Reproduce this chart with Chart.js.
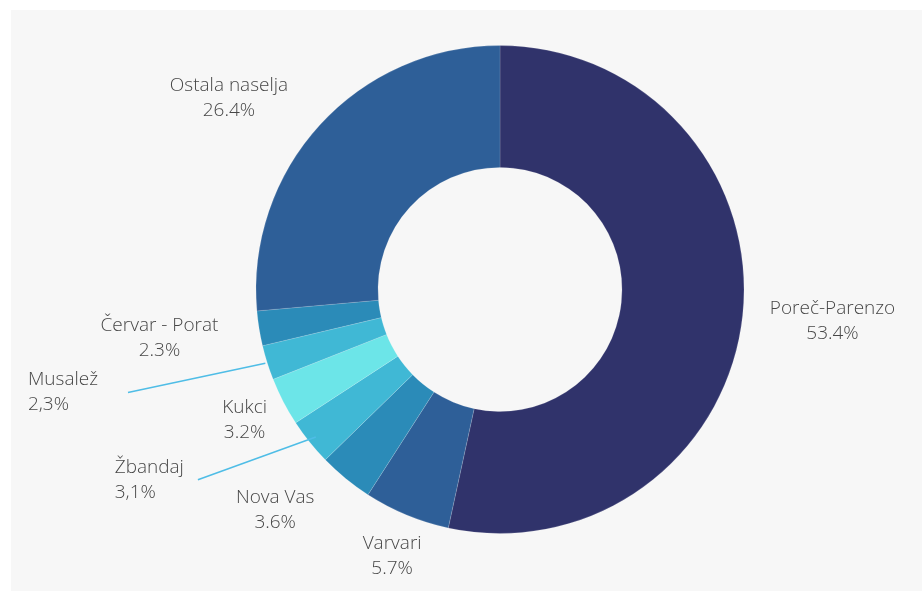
<!DOCTYPE html>
<html>
<head>
<meta charset="utf-8">
<script src="https://cdn.jsdelivr.net/npm/chart.js@4.4.1/dist/chart.umd.min.js"></script>
<style>
  body { margin: 0; background: #ffffff; }
  #panel { position: absolute; left: 11px; top: 10px; width: 911px; height: 581px; background: #f7f7f7; }
  canvas { display: block; }
</style>
</head>
<body>
<div id="panel"><canvas id="chart" width="911" height="581"></canvas></div>
<script>
// Data
const categories = ["Poreč-Parenzo", "Varvari", "Nova Vas", "Žbandaj", "Kukci", "Musalež", "Červar - Porat", "Ostala naselja"];
const shares = [53.4, 5.7, 3.6, 3.1, 3.2, 2.3, 2.3, 26.4];
const shareLabels = ["53.4%", "5.7%", "3.6%", "3,1%", "3.2%", "2,3%", "2.3%", "26.4%"];

// Slice colours
const sliceColors = ["#30336b", "#2e5f98", "#2b8bb8", "#40b8d5", "#6ce5e8", "#40b8d5", "#2b8bb8", "#2e5f98"];

// Label placement: distance past the outer edge and small angle shift (deg)
// leader labels get a line from the slice out to the text
const labelLayout = [
  { dist: 90, turn: -0.7 },
  { dist: 44, turn: -0.5 },
  { dist: 71, turn: 6.3 },
  { leader: true, from: -8, dist: 113, turn: 6.5, gap: 14 },
  { dist: 43, turn: 0.2 },
  { leader: true, from: 2, dist: 142, turn: 2, gap: 30 },
  { dist: 100, turn: 1.0 },
  { dist: 88, turn: -7.2 }
];

const FONT = "300 19px 'Open Sans'";
const TEXT_COLOR = "#474747";
const LINE_GAP = 25;

const sliceLabels = {
  id: "sliceLabels",
  afterDatasetsDraw(chart) {
    const ctx = chart.ctx;
    const meta = chart.getDatasetMeta(0);
    ctx.save();
    ctx.font = FONT;
    ctx.fillStyle = TEXT_COLOR;
    ctx.textBaseline = "middle";
    meta.data.forEach((arc, i) => {
      const { x, y, startAngle, endAngle, outerRadius } = arc.getProps(["x", "y", "startAngle", "endAngle", "outerRadius"], true);
      const lay = labelLayout[i];
      const mid = (startAngle + endAngle) / 2;
      const a = mid + lay.turn * Math.PI / 180;
      const r = outerRadius + lay.dist;
      const px = x + r * Math.cos(a);
      const py = y + r * Math.sin(a);
      if (lay.leader) {
        const r0 = outerRadius + lay.from;
        ctx.strokeStyle = "#4fbde6";
        ctx.lineWidth = 1.5;
        ctx.beginPath();
        ctx.moveTo(x + r0 * Math.cos(mid), y + r0 * Math.sin(mid));
        ctx.lineTo(px, py);
        ctx.stroke();
        const w = Math.max(ctx.measureText(categories[i]).width, ctx.measureText(shareLabels[i]).width);
        const lx = px - lay.gap - w;
        ctx.textAlign = "left";
        ctx.fillText(categories[i], lx, py - LINE_GAP / 2);
        ctx.fillText(shareLabels[i], lx, py + LINE_GAP / 2);
      } else {
        ctx.textAlign = "center";
        ctx.fillText(categories[i], px, py - LINE_GAP / 2);
        ctx.fillText(shareLabels[i], px, py + LINE_GAP / 2);
      }
    });
    ctx.restore();
  }
};

new Chart(document.getElementById("chart"), {
  type: "doughnut",
  data: {
    labels: categories,
    datasets: [{
      data: shares,
      backgroundColor: sliceColors,
      borderColor: "rgba(247,247,247,0.15)",
      borderWidth: 1
    }]
  },
  options: {
    responsive: false,
    animation: false,
    cutout: "50%",
    layout: { padding: { left: 244.5, right: 177.5, top: 35, bottom: 57 } },
    plugins: {
      legend: { display: false },
      tooltip: { enabled: false }
    }
  },
  plugins: [sliceLabels]
});
</script>
</body>
</html>
